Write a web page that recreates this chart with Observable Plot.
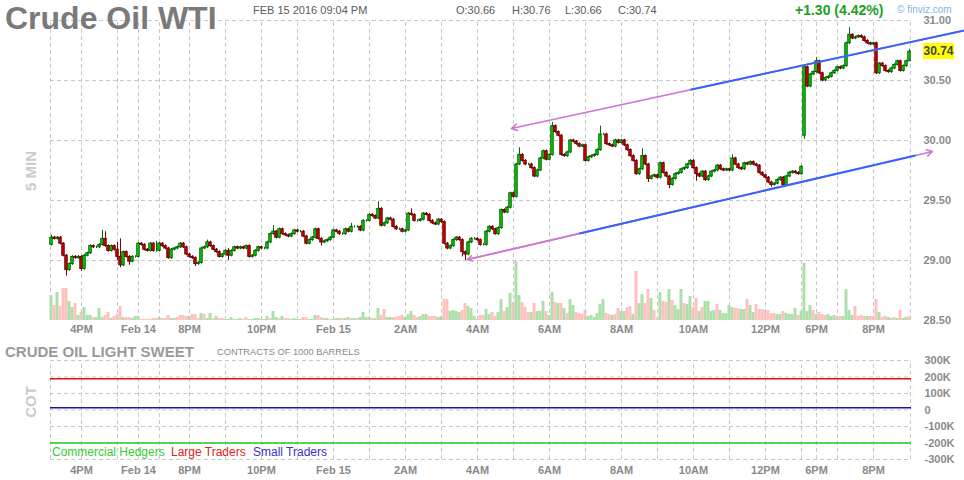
<!DOCTYPE html>
<html><head><meta charset="utf-8">
<script src="https://cdn.jsdelivr.net/npm/d3@7"></script>
<script src="https://cdn.jsdelivr.net/npm/@observablehq/plot@0.6"></script>
<style>
body{margin:0;background:#fff;font-family:"Liberation Sans",Arial,sans-serif;}
#wrap{position:relative;width:964px;height:480px;overflow:hidden;background:#fff;}
#wrap svg{position:absolute;left:0;}
.t{position:absolute;white-space:nowrap;line-height:1;}
</style></head><body><div id="wrap"></div>
<script>
// ---- 5-minute closes (bar index 0..286) ----
const closes = [
29.19,29.18,29.19,29.14,29.04,28.92,28.97,29.03,29.02,29.03,28.93,29.04,
29.06,29.12,29.11,29.11,29.13,29.18,29.12,29.08,29.12,29.09,29.03,28.96,
29.07,29.03,28.99,29.03,29.03,29.14,29.13,29.09,29.08,29.14,29.08,29.08,
29.14,29.12,29.10,29.02,29.09,29.10,29.11,29.14,29.11,29.05,29.03,29.02,
28.97,28.98,29.10,29.11,29.15,29.12,29.09,29.07,29.03,29.05,29.08,29.04,
29.08,29.11,29.10,29.11,29.10,29.12,29.03,29.04,29.08,29.11,29.10,29.10,
29.15,29.22,29.24,29.19,29.26,29.22,29.21,29.20,29.22,29.25,29.24,29.24,
29.20,29.14,29.17,29.19,29.26,29.18,29.15,29.16,29.17,29.19,29.25,29.24,
29.22,29.22,29.26,29.24,29.28,29.28,29.28,29.25,29.33,29.33,29.38,29.37,
29.35,29.43,29.29,29.31,29.35,29.34,29.28,29.26,29.26,29.24,29.25,29.39,
29.38,29.33,29.33,29.34,29.39,29.38,29.33,29.31,29.30,29.34,29.32,29.14,
29.10,29.12,29.17,29.19,29.17,29.07,29.05,29.15,29.18,29.18,29.17,29.13,
29.13,29.24,29.28,29.26,29.22,29.27,29.42,29.40,29.44,29.56,29.53,29.80,
29.88,29.83,29.80,29.80,29.77,29.70,29.75,29.85,29.91,29.84,29.88,30.12,
30.07,30.04,29.88,29.87,29.90,30.00,29.99,29.97,29.95,29.96,29.83,29.86,
29.87,29.88,29.92,30.05,30.05,29.97,29.96,29.95,30.00,29.98,30.00,29.96,
29.92,29.87,29.83,29.72,29.76,29.87,29.80,29.68,29.70,29.71,29.69,29.81,
29.73,29.70,29.63,29.68,29.72,29.73,29.76,29.77,29.80,29.83,29.77,29.72,
29.70,29.74,29.67,29.70,29.74,29.75,29.79,29.76,29.75,29.76,29.75,29.85,
29.80,29.77,29.76,29.81,29.80,29.82,29.80,29.79,29.73,29.71,29.69,29.65,
29.63,29.64,29.67,29.69,29.63,29.70,29.73,29.74,29.73,29.72,29.78,30.61,
30.45,30.55,30.57,30.66,30.56,30.50,30.52,30.53,30.56,30.58,30.61,30.60,
30.62,30.81,30.88,30.85,30.86,30.87,30.86,30.83,30.81,30.80,30.81,30.56,
30.64,30.62,30.58,30.57,30.60,30.63,30.66,30.58,30.62,30.66,30.74
];
const firstOpen = 29.13;
const gapOpens = {251: 30.04};
const wickHighs = {0:29.21,5:29.05,17:29.25,18:29.24,22:29.15,23:29.18,35:29.16,52:29.17,59:29.10,74:29.29,90:29.19,100:29.31,109:29.49,120:29.43,156:29.94,167:30.15,183:30.12,197:29.93,227:29.88,251:30.63,255:30.69,266:30.94,286:30.76};
const wickLows = {5:28.87,10:28.91,22:29.00,23:28.94,26:28.96,48:28.95,59:29.00,90:29.12,137:29.03,138:29.00,199:29.65,206:29.60,215:29.66,240:29.61,251:30.01,275:30.55,286:30.66};
// ---- volume (relative units; sign = up / down bar) ----
const volumes = [
25,-15,28,-14,-32,-32,19,13,-17,5,-8,13,
5,5,-3,3,12,3,-5,-8,2,-4,-6,-14,
3,-3,-3,2,4,4,-1,-1,-1,-1,-2,-2,
3,-2,-2,-5,2,2,-3,-5,-5,-4,4,-6,
-6,-2,7,-6,2,7,-2,4,-2,-2,1,1,
3,1,1,2,-1,-3,1,1,2,2,1,1,
4,-2,9,3,-2,4,-2,-2,1,2,1,1,
-3,-3,1,1,5,-5,-3,2,2,-1,1,2,
2,-2,2,3,-2,2,-2,3,8,3,3,-2,
2,12,-5,-11,3,3,-3,-3,-4,-5,3,6,
9,-5,-3,4,6,6,-4,-4,-4,3,4,-21,
-21,9,10,9,8,-10,-17,14,12,4,1,-5,
-5,11,6,-8,-4,8,21,-9,13,27,-18,59,
25,-18,-13,-8,8,-17,9,9,19,-9,5,28,
-18,17,-17,12,-7,21,15,-8,-7,-6,-10,4,
5,3,7,16,21,-7,-6,5,-6,-12,9,9,
-13,-14,6,-49,17,26,-17,-31,22,-10,-2,28,
-19,-18,31,-20,15,11,31,-17,16,24,-13,-22,
9,-13,19,19,9,10,-16,10,7,7,15,13,
-12,-12,11,11,-21,15,8,-16,-11,-11,-10,-10,
-7,-7,6,6,-9,7,6,6,12,-5,9,57,
9,15,-10,6,-8,-6,-5,6,4,5,-4,-4,
4,31,10,5,-14,-4,-5,-4,4,-4,-4,-21,
8,-3,-4,3,2,-3,2,-10,2,3,-4
];
// ---- time axis ----
const tickBars = [10,29,46,70,94,118,142,166,190,214,238,255,274];
const tickLabels = ["4PM","Feb 14","8PM","10PM","Feb 15","2AM","4AM","6AM","8AM","10AM","12PM","6PM","8PM"];
const gridBars = [-0.33,10,22,29,36,46,58,70,82,94,106,118,130,142,154,166,178,190,202,214,226,238,250,255,262,274,286.33];
const priceTicks = [28.5,29,29.5,30,30.5,31];
const priceGrid = [29,29.5,30,30.5,31];
// ---- trend lines [bar, price] ----
const upperTrend = [[153.33,30.10],[304.33,30.917]];
const upperBlue = [[213,30.423],[304.33,30.917]];
const lowerTrend = [[138.67,29.008],[293.67,29.908]];
const lowerBlue = [[176,29.225],[288,29.875]];
// ---- COT ----
const cotNames = ["Commercial Hedgers","Large Traders","Small Traders"];
const cotValues = [-200000,190000,13000];
const cotColors = ["#22cc22","#dd1111","#1a1a99"];
const legendColors = ["#33cc33","#dd2222","#3333cc"];
const cotTicks = [-300000,-200000,-100000,0,100000,200000,300000];
// ---- header ----
const header = {date:"FEB 15 2016 09:04 PM", o:"30.66", h:"30.76", l:"30.66", c:"30.74", chg:"+1.30 (4.42%)"};

const candles = closes.map((c,i)=>{
  const o = i===0 ? firstOpen : (gapOpens[i] ?? closes[i-1]);
  const hi = wickHighs[i] ?? Math.max(o,c)+0.01;
  const lo = wickLows[i] ?? Math.min(o,c)-0.01;
  return {i,o,c,hi,lo,up:c>=o};
});
const vol = volumes.map((v,i)=>({i,v:Math.abs(v),up:v>=0}));

const W=964, ML=50, MR=53;
const xdom=[-0.33,286.67];
const baseStyle = {background:"transparent",fontFamily:"'Liberation Sans',Arial,sans-serif",fontSize:"11px",fontWeight:"bold",color:"#8a8a8a",overflow:"visible"};
const xfmt = d => tickLabels[tickBars.indexOf(d)] ?? "";
const wrap = document.getElementById("wrap");

const plotA = Plot.plot({
  width:W,height:340,marginLeft:ML,marginRight:MR,marginTop:20,marginBottom:20,
  style:baseStyle,
  x:{domain:xdom,axis:null},
  y:{domain:[0,300],axis:null},
  marks:[
    Plot.rect(vol,{x1:d=>d.i-0.5,x2:d=>d.i+0.5,y1:0,y2:"v",fill:d=>d.up?"#ade0a8":"#ffc0c0"})
  ]
});
plotA.style.top="0px";
wrap.appendChild(plotA);

const pt = a => ({x1:a[0][0],y1:a[0][1],x2:a[1][0],y2:a[1][1]});
const pink = "#cf78cf";
const plotB = Plot.plot({
  width:W,height:340,marginLeft:ML,marginRight:MR,marginTop:20,marginBottom:20,
  style:baseStyle,
  x:{domain:xdom,ticks:tickBars,tickFormat:xfmt,tickSize:0,tickPadding:5,label:null},
  y:{domain:[28.5,31],axis:"right",ticks:priceTicks,tickFormat:d=>d.toFixed(2),tickSize:0,tickPadding:12,label:null},
  marks:[
    Plot.ruleX(gridBars,{x:d=>d,y1:28.5,y2:31,stroke:"#c8c8c8",strokeDasharray:"4,3"}),
    Plot.ruleY(priceGrid,{y:d=>d,stroke:"#c8c8c8",strokeDasharray:"4,3"}),
    Plot.ruleX(candles,{x:"i",y1:"lo",y2:"hi",stroke:d=>d.up?"#006a00":"#7a0000",strokeWidth:1}),
    Plot.rect(candles,{x1:d=>d.i-0.4,x2:d=>d.i+0.4,y1:"o",y2:"c",fill:d=>d.up?"#00e000":"#e00000",stroke:d=>d.up?"#005c00":"#660000",strokeWidth:1}),
    Plot.arrow([pt([upperTrend[1],upperTrend[0]])],{x1:"x1",y1:"y1",x2:"x2",y2:"y2",stroke:pink,strokeWidth:1.6,headLength:6}),
    Plot.arrow([pt(lowerTrend)],{x1:"x1",y1:"y1",x2:"x2",y2:"y2",stroke:pink,strokeWidth:1.6,headLength:6}),
    Plot.arrow([pt([[ (lowerTrend[0][0]+lowerTrend[1][0])/2,(lowerTrend[0][1]+lowerTrend[1][1])/2 ],lowerTrend[0]])],{x1:"x1",y1:"y1",x2:"x2",y2:"y2",stroke:pink,strokeWidth:1.6,headLength:5}),
    Plot.link([pt(upperBlue)],{x1:"x1",y1:"y1",x2:"x2",y2:"y2",stroke:"#3366ff",strokeWidth:2}),
    Plot.link([pt(lowerBlue)],{x1:"x1",y1:"y1",x2:"x2",y2:"y2",stroke:"#3366ff",strokeWidth:2})
  ]
});
plotB.style.top="0px";
wrap.appendChild(plotB);

const plotC = Plot.plot({
  width:W,height:140,marginLeft:ML,marginRight:MR,marginTop:20,marginBottom:21,
  style:baseStyle,
  x:{domain:xdom,ticks:tickBars,tickFormat:xfmt,tickSize:0,tickPadding:7,label:null},
  y:{domain:[-300000,300000],axis:"right",ticks:cotTicks,tickFormat:d=>d===0?"0":(d/1000)+"K",tickSize:0,tickPadding:13,label:null},
  marks:[
    Plot.ruleX(gridBars,{x:d=>d,y1:-300000,y2:300000,stroke:"#c8c8c8",strokeDasharray:"4,3"}),
    Plot.ruleY(cotTicks,{y:d=>d,stroke:"#c8c8c8",strokeDasharray:"4,3"}),
    Plot.ruleY(cotValues,{y:d=>d,stroke:(d,i)=>cotColors[i],strokeWidth:1.5})
  ]
});
plotC.style.top="340px";
wrap.appendChild(plotC);

function txt(s,css){const e=document.createElement("div");e.className="t";e.textContent=s;Object.assign(e.style,css);wrap.appendChild(e);return e;}
txt("Crude Oil WTI",{left:"5px",top:"2px",fontSize:"32px",fontWeight:"bold",color:"#7a7a7a"});
txt(header.date,{left:"253px",top:"5px",fontSize:"11px",color:"#5a5a5a"});
txt("O:"+header.o,{left:"456px",top:"5px",fontSize:"11px",color:"#5a5a5a"});
txt("H:"+header.h,{left:"512px",top:"5px",fontSize:"11px",color:"#5a5a5a"});
txt("L:"+header.l,{left:"565px",top:"5px",fontSize:"11px",color:"#5a5a5a"});
txt("C:"+header.c,{left:"618px",top:"5px",fontSize:"11px",color:"#5a5a5a"});
txt(header.chg,{left:"795px",top:"3px",fontSize:"14px",fontWeight:"bold",color:"#22a022"});
txt("\u00a9 finviz.com",{left:"897px",top:"5px",fontSize:"10px",color:"#80b4e6"});
txt("5 MIN",{left:"30px",top:"171px",fontSize:"15px",fontWeight:"bold",color:"#cccccc",transform:"translate(-50%,-50%) rotate(-90deg)"});
txt("COT",{left:"30px",top:"402px",fontSize:"15px",fontWeight:"bold",color:"#cccccc",transform:"translate(-50%,-50%) rotate(-90deg)"});
txt("CRUDE OIL LIGHT SWEET",{left:"5px",top:"344px",fontSize:"15px",fontWeight:"bold",color:"#9a9a9a"});
txt("CONTRACTS OF 1000 BARRELS",{left:"217px",top:"348px",fontSize:"9.3px",color:"#888"});
const legX=[52,171,253];
cotNames.forEach((n,i)=>txt(n,{left:legX[i]+"px",top:"446px",fontSize:"12px",color:legendColors[i]}));
const last = closes[closes.length-1];
const py = plotB.scale("y").apply(last);
txt(last.toFixed(2),{left:"923px",top:(py-8)+"px",width:"31px",height:"16px",lineHeight:"16px",textAlign:"center",background:"#ffff00",fontSize:"12px",fontWeight:"bold",color:"#444"});
</script></body></html>
